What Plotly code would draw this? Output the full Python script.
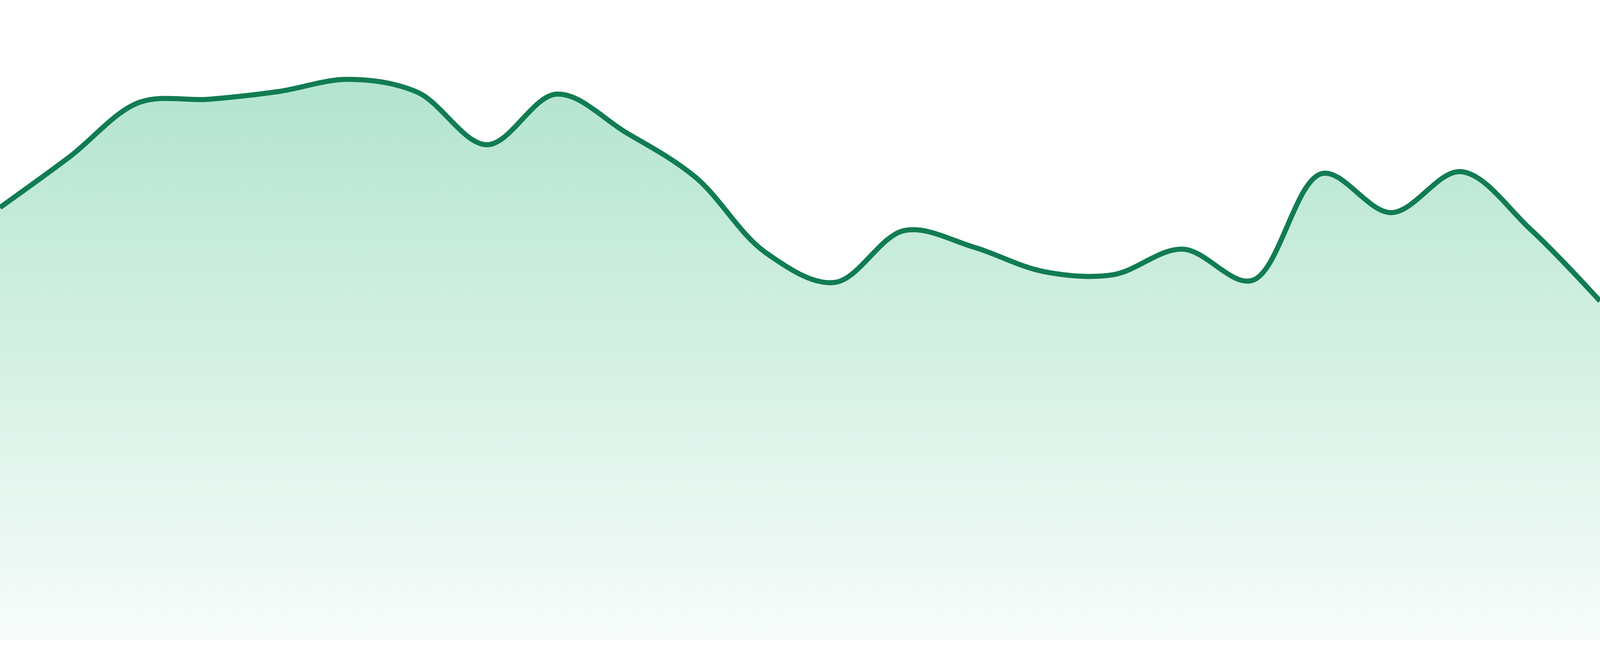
import plotly.graph_objects as go

# daily readings, one point per day
days = list(range(24))
values = [67.6, 75.5, 84.0, 84.5, 85.7, 87.6, 85.6, 77.4, 85.3, 79.3, 72.3, 60.6,
          55.9, 64.0, 61.4, 57.6, 57.1, 61.1, 56.2, 72.9, 66.8, 73.2, 64.2, 53.0]

line_color = '#117c52'

fig = go.Figure()

fig.add_trace(go.Scatter(x=days, y=values,
                         mode='lines',
                         line=dict(color=line_color, width=13, shape='spline', smoothing=1),
                         fill='tozeroy',
                         fillgradient=dict(type='vertical',
                                           colorscale=[[0, 'rgba(40,180,120,0.035)'],
                                                       [1, 'rgba(40,180,120,0.40)']],
                                           start=0, stop=100),
                         hoverinfo='skip',
                         showlegend=False))

fig.update_layout(autosize=True,
                  margin=dict(l=0, r=0, t=0, b=40),
                  paper_bgcolor='white',
                  plot_bgcolor='white',
                  showlegend=False,
                  xaxis=dict(visible=False, range=[0, 23], fixedrange=True),
                  yaxis=dict(visible=False, range=[0, 100], fixedrange=True))

# fill the whole window, no body margin or scrollbars
fit_page = ("document.body.style.margin='0';"
            "document.body.style.overflow='hidden';"
            "Plotly.Plots.resize(document.getElementById('{plot_id}'));")

fig.write_html("out.html", default_width='100vw', default_height='100vh',
               config={'displayModeBar': False}, post_script=fit_page)
